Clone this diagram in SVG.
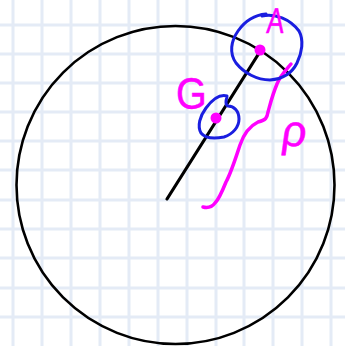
<svg xmlns="http://www.w3.org/2000/svg" width="345" height="346" viewBox="0 0 345 346">
<style>
.grid{stroke:#e4ebf6;stroke-width:3;fill:none}
.ink{fill:none;stroke-linecap:round;stroke-linejoin:round}
.blue{stroke:#1a1ee0;stroke-width:3}
.mag{stroke:#ff00ff;stroke-width:3.5}
.lbl{font-family:"Liberation Sans","DejaVu Sans",sans-serif;fill:#ff00ff;stroke:#ff00ff;stroke-width:0.5}
</style>
<rect width="345" height="346" fill="#ffffff"/>
<path class="grid" d="M13 0V346M42 0V346M71 0V346M100 0V346M129 0V346M158 0V346M187 0V346M216 0V346M244 0V346M273 0V346M302 0V346M331 0V346M0 25H345M0 54H345M0 83H345M0 112H345M0 141H345M0 170H345M0 200H345M0 229H345M0 258H345M0 288H345M0 317H345"/>
<g id="circle">
<circle cx="175.5" cy="185" r="159" fill="none" stroke="#000" stroke-width="2.6"/>
</g>
<g id="connectors">
<line class="ink" x1="167" y1="199" x2="261" y2="50" stroke="#000" stroke-width="3.2"/>
<path class="ink mag" d="M291 64C286 70 280 76 277 84C272 96 270 105 268 112C267 118 266 120 258 122C250 126 244 133 240 145C235 160 231 173 226 182C222 192 219 199 215 203C212 207 207 208 203 207"/>
</g>
<g id="A">
<path class="ink blue" d="M262 16C275 13 290 19 299 31C304 40 302 53 297 63C292 73 283 79 270 80C257 80 244 73 236 63C229 53 231 41 238 31C245 21 254 15 266 14"/>
<circle cx="260" cy="50" r="5.5" fill="#ff00ff"/>
<text class="lbl" x="0" y="0" font-size="36" transform="translate(266 33) scale(0.72 1) skewX(-6)">A</text>
</g>
<g id="G">
<path class="ink blue" d="M227 96C220 94 212 100 206 108C200 116 197 126 201 133C205 138 214 139 224 137C233 134 239 127 239 119C239 111 234 106 228 106C225 105 226 100 227 97"/>
<circle cx="216" cy="118" r="5.5" fill="#ff00ff"/>
<text class="lbl" x="0" y="0" font-size="44" transform="translate(176 109) scale(0.9 1)">G</text>
</g>
<g id="rho">
<text class="lbl" x="0" y="0" font-size="44" transform="translate(280 146) skewX(-8)">ρ</text>
</g>
</svg>
